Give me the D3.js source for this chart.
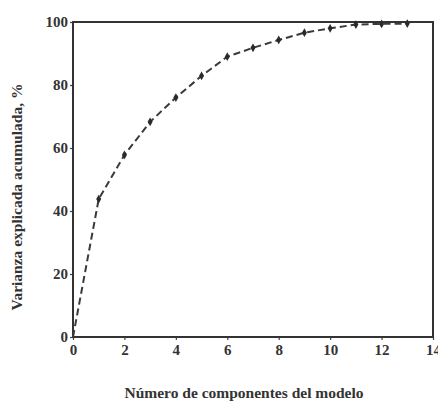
<!DOCTYPE html>
<html>
<head>
<meta charset="utf-8">
<script src="https://cdn.jsdelivr.net/npm/d3@7"></script>
<style>
  body { margin: 0; background: #fff; }
  svg text { font-family: "Liberation Serif", "DejaVu Serif", serif; font-weight: bold; fill: #333; }
</style>
</head>
<body>
<svg id="chart"></svg>
<script>
// number of components vs cumulative explained variance (%)
const components = [0, 1, 2, 3, 4, 5, 6, 7, 8, 9, 10, 11, 12, 13];
const variance = [0, 43.8, 57.8, 68.3, 76, 82.9, 89, 91.8, 94.3, 96.6, 98, 99.2, 99.4, 99.5];
const xTicks = [0, 2, 4, 6, 8, 10, 12, 14];
const yTicks = [0, 20, 40, 60, 80, 100];

const data = components.map((c, i) => ({ n: c, v: variance[i] }));

const width = 438, height = 405;
const margin = { top: 22, right: 5, bottom: 68, left: 73 };
const w = width - margin.left - margin.right;
const h = height - margin.top - margin.bottom;

const svg = d3.select('#chart')
    .attr('width', width)
    .attr('height', height);

const chart = svg.append('g')
    .attr('transform', `translate(${margin.left},${margin.top})`);

const xScale = d3.scaleLinear().domain([0, 14]).range([0, w]);
const yScale = d3.scaleLinear().domain([0, 100]).range([h, 0]);

// axes
const xAxis = d3.axisBottom(xScale).tickValues(xTicks).tickSize(3).tickPadding(4);
const yAxis = d3.axisLeft(yScale).tickValues(yTicks).tickSize(3).tickPadding(2);

const xAxisG = chart.append('g')
    .attr('transform', `translate(0,${h})`)
    .call(xAxis);
const yAxisG = chart.append('g').call(yAxis);

[xAxisG, yAxisG].forEach(g => {
  g.select('.domain').remove();
  g.selectAll('line').attr('stroke', '#444').attr('stroke-width', 1.2);
  g.selectAll('text').attr('font-size', 15).attr('fill', '#333');
});

// frame
chart.append('rect')
    .attr('width', w)
    .attr('height', h)
    .attr('fill', 'none')
    .attr('stroke', '#333')
    .attr('stroke-width', 2);

// dashed line
const line = d3.line()
    .x(d => xScale(d.n))
    .y(d => yScale(d.v));

chart.append('path')
    .datum(data)
    .attr('d', line)
    .attr('fill', 'none')
    .attr('stroke', '#3a3a3a')
    .attr('stroke-width', 2)
    .attr('stroke-dasharray', '7,4');

// markers
chart.selectAll('.marker')
    .data(data.slice(1))
  .join('path')
    .attr('class', 'marker')
    .attr('transform', d => `translate(${xScale(d.n)},${yScale(d.v)})`)
    .attr('d', d3.symbol(d3.symbolDiamond, 22))
    .attr('fill', '#2a2a2a');

// axis labels
svg.append('text')
    .attr('x', 244)
    .attr('y', 398)
    .attr('text-anchor', 'middle')
    .attr('font-size', 15.5)
    .text('Número de componentes del modelo');

svg.append('text')
    .attr('transform', 'translate(22,197) rotate(-90)')
    .attr('text-anchor', 'middle')
    .attr('font-size', 15.5)
    .text('Varianza explicada acumulada, %');
</script>
</body>
</html>
